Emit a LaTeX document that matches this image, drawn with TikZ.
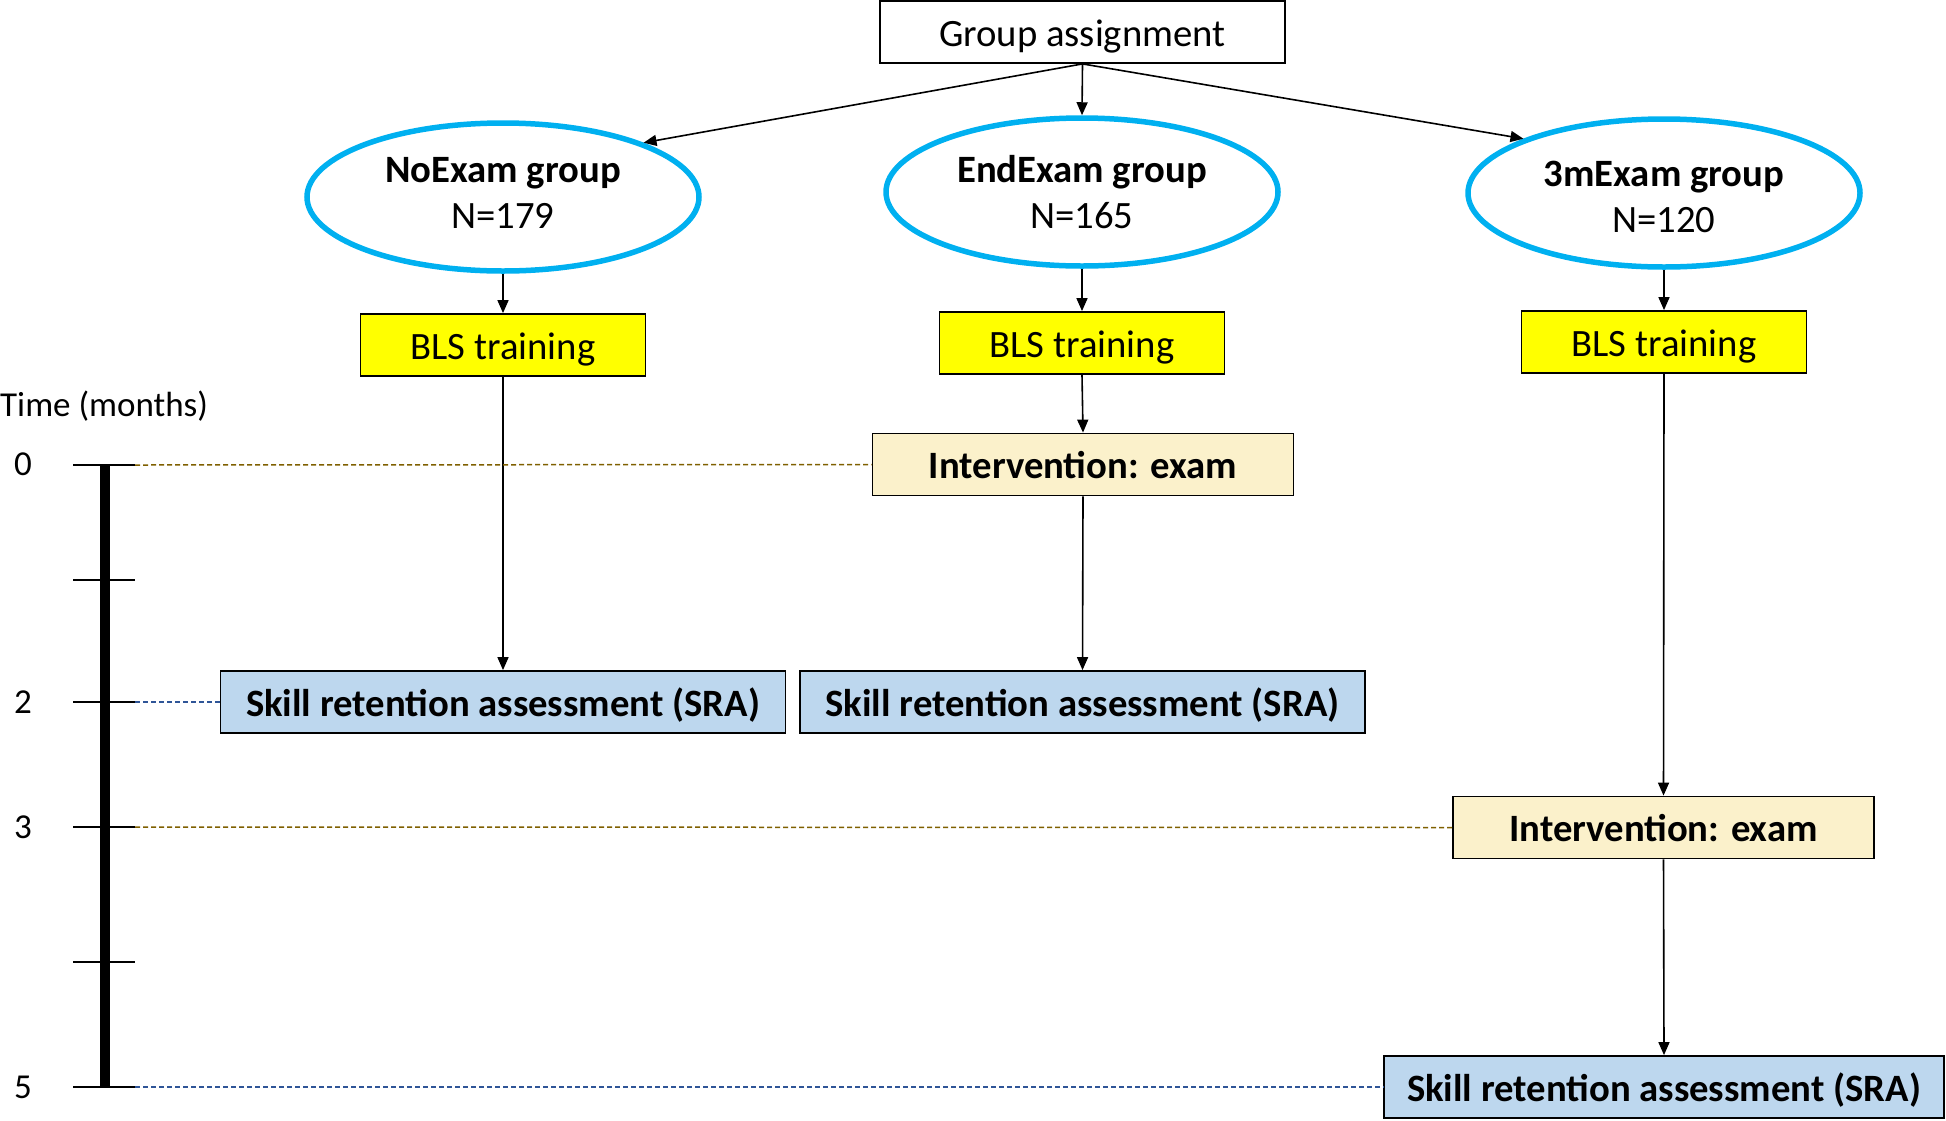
\documentclass[tikz,border=0pt]{standalone}
\usepackage{fontspec}
\setmainfont{Carlito}
\usetikzlibrary{shapes.geometric,arrows.meta}
\definecolor{cyanring}{HTML}{00B0F0}
\definecolor{blsyellow}{HTML}{FFFF00}
\definecolor{intfill}{HTML}{FBF1CB}
\definecolor{srafill}{HTML}{BDD7EE}
\definecolor{oliveline}{HTML}{7F6000}
\definecolor{blueline}{HTML}{2F5597}
\begin{document}
\begin{tikzpicture}[x=1pt,y=-1pt,
  every node/.style={font=\fontsize{38.7}{46}\selectfont, inner sep=0pt},
  box/.style={draw, line width=1.8pt, minimum height=62pt, text height=30pt, text depth=2pt},
  ell/.style={ellipse, draw=cyanring, line width=5.5pt, minimum width=392pt, minimum height=148pt},
  etext/.style={anchor=base},
  arr/.style={-{Triangle[length=13pt,width=11pt]}, line width=1.6pt},
  dashY/.style={draw=oliveline, line width=1.5pt, dash pattern=on 5pt off 3pt},
  dashB/.style={draw=blueline, line width=1.5pt, dash pattern=on 5pt off 3pt},
  tick/.style={line width=2.5pt},
  tlabel/.style={font=\fontsize{35}{42}\selectfont}
]
\useasboundingbox (0,0) rectangle (1946,1120);

% top
\node[box, minimum width=405pt] (ga) at (1082.5,32) {Group assignment};

% ellipses
\node[ell] (noex) at (503,197) {};
\node[ell] (endex) at (1082,192) {};
\node[ell] (mex) at (1664,193) {};
\node[etext] (noex1) at (503,182) {\textbf{NoExam group}};
\node[etext] (noex2) at (503,228) {N=179};
\node[etext] (endex1) at (1082,182) {\textbf{EndExam group}};
\node[etext] (endex2) at (1082,228) {N=165};
\node[etext] (mex1) at (1664,186) {\textbf{3mExam group}};
\node[etext] (mex2) at (1664,232) {N=120};

% BLS
\node[box, fill=blsyellow, minimum width=285pt] (bls1) at (503,345) {BLS training};
\node[box, fill=blsyellow, minimum width=285pt] (bls2) at (1082,343) {BLS training};
\node[box, fill=blsyellow, minimum width=285pt] (bls3) at (1664,342) {BLS training};

% interventions
\node[box, fill=intfill, minimum width=421pt] (int2) at (1083,464.5) {\textbf{Intervention: exam}};
\node[box, fill=intfill, minimum width=421pt] (int3) at (1663.5,827.5) {\textbf{Intervention: exam}};

% SRA
\node[box, fill=srafill, minimum width=565pt] (sra1) at (503,702) {\textbf{Skill retention assessment (SRA)}};
\node[box, fill=srafill, minimum width=565pt] (sra2) at (1082.5,702) {\textbf{Skill retention assessment (SRA)}};
\node[box, fill=srafill, minimum width=560pt] (sra3) at (1664,1087) {\textbf{Skill retention assessment (SRA)}};

% arrows
\draw[arr] (ga.south) -- (noex.north east);
\draw[arr] (ga.south) -- (endex.north);
\draw[arr] (ga.south) -- (mex.north west);
\draw[arr] (noex.south) -- (bls1.north);
\draw[arr] (endex.south) -- (bls2.north);
\draw[arr] (mex.south) -- (bls3.north);
\draw[arr] (bls1.south) -- (sra1.north);
\draw[arr] (bls2.south) -- (int2.north);
\draw[arr] (int2.south) -- (sra2.north);
\draw[arr] (bls3.south) -- (int3.north);
\draw[arr] (int3.south) -- (sra3.north);

% time axis
\node[tlabel, anchor=west] (tt) at (0,406) {Time (months)};
\coordinate (a0) at (105,465);
\coordinate (a5) at (105,1087);
\draw[line width=10pt] (a0) -- (a5);
\foreach \yy/\nm in {465/t0,580/t1,702/t2,827/t3,962/t4,1087/t5}{
  \draw[tick] (73,\yy) -- (135,\yy);
  \coordinate (\nm) at (135,\yy);
}
\node[tlabel] (l0) at (23,464) {0};
\node[tlabel] (l2) at (23,702) {2};
\node[tlabel] (l3) at (23,827) {3};
\node[tlabel] (l5) at (23,1087) {5};

% dashed guides
\draw[dashY] (t0) -- (int2.west);
\draw[dashB] (t2) -- (sra1.west);
\draw[dashY] (t3) -- (int3.west);
\draw[dashB] (t5) -- (sra3.west);
\end{tikzpicture}
\end{document}
